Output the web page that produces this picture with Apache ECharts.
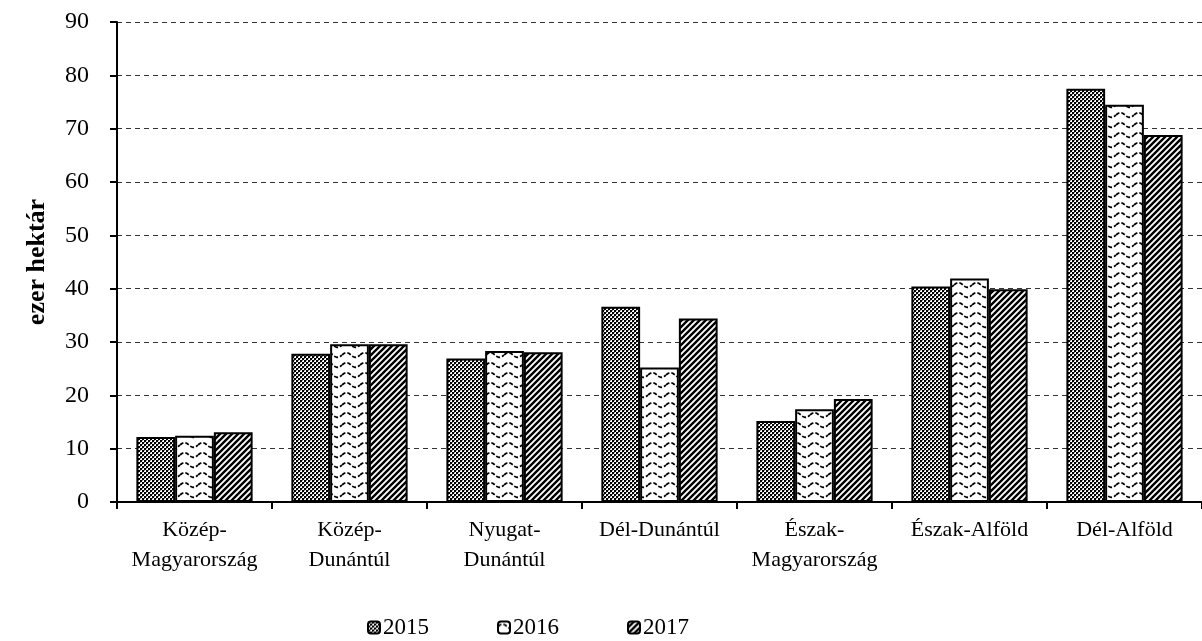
<!DOCTYPE html>
<html>
<head>
<meta charset="utf-8">
<script src="https://cdn.jsdelivr.net/npm/echarts@6/dist/echarts.min.js"></script>
<style>
html,body{margin:0;padding:0;background:#fff;}
#chart{width:1202px;height:641px;}
</style>
</head>
<body>
<div id="chart"></div>
<script>
const categories = ['Közép-\nMagyarország', 'Közép-\nDunántúl', 'Nyugat-\nDunántúl', 'Dél-Dunántúl', 'Észak-\nMagyarország', 'Észak-Alföld', 'Dél-Alföld'];
const seriesNames = ['2015', '2016', '2017'];
const values2015 = [12.2, 27.8, 26.9, 36.6, 15.2, 40.4, 77.5];
const values2016 = [12.4, 29.6, 28.3, 25.2, 17.4, 41.9, 74.5];
const values2017 = [13.1, 29.6, 28.1, 34.4, 19.3, 39.9, 68.8];
const yTicks = [0, 10, 20, 30, 40, 50, 60, 70, 80, 90];

function checkerPattern() {
  const c = document.createElement('canvas');
  c.width = 4; c.height = 4;
  const g = c.getContext('2d');
  g.fillStyle = '#fff'; g.fillRect(0, 0, 4, 4);
  g.fillStyle = '#000';
  g.fillRect(0, 0, 2, 2); g.fillRect(2, 2, 2, 2);
  g.fillStyle = '#888';
  g.fillRect(2, 0, 1, 1); g.fillRect(0, 2, 1, 1);
  return c;
}
function wavePattern() {
  const c = document.createElement('canvas');
  c.width = 18; c.height = 10;
  const g = c.getContext('2d');
  g.fillStyle = '#fff'; g.fillRect(0, 0, 18, 10);
  g.strokeStyle = '#000'; g.lineWidth = 1.8;
  g.beginPath();
  for (let x = 0; x <= 18; x += 0.5) {
    const y = 5 - 2.3 * Math.sin(x / 18 * Math.PI * 2);
    if (x === 0) g.moveTo(x, y); else g.lineTo(x, y);
  }
  g.setLineDash([4, 2]);
  g.stroke();
  return c;
}
function diagPattern() {
  const c = document.createElement('canvas');
  c.width = 6; c.height = 6;
  const g = c.getContext('2d');
  g.fillStyle = '#fff'; g.fillRect(0, 0, 6, 6);
  g.strokeStyle = '#000'; g.lineWidth = 2.4;
  g.beginPath();
  g.moveTo(-1, 7); g.lineTo(7, -1);
  g.moveTo(-4, 4); g.lineTo(4, -4);
  g.moveTo(2, 10); g.lineTo(10, 2);
  g.stroke();
  return c;
}
const patterns = [checkerPattern(), wavePattern(), diagPattern()];
const dataSets = [values2015, values2016, values2017];

const chart = echarts.init(document.getElementById('chart'), null, {renderer: 'canvas'});
const font = '"Liberation Serif", "Times New Roman", serif';

chart.setOption({
  animation: false,
  backgroundColor: '#fff',
  textStyle: {fontFamily: font, color: '#000'},
  grid: {left: 117, top: 22, width: 1094, height: 480, containLabel: false},
  legend: {
    bottom: -3,
    left: 362,
    itemWidth: 12,
    itemHeight: 12,
    itemGap: 68,
    textStyle: {fontFamily: font, fontSize: 23, color: '#000', padding: [0, 0, 0, -2]},
    data: seriesNames
  },
  xAxis: {
    type: 'category',
    data: categories,
    axisLine: {lineStyle: {color: '#000', width: 2}},
    axisTick: {show: true, length: 7, lineStyle: {color: '#000', width: 2}},
    axisLabel: {fontFamily: font, fontSize: 22, color: '#000', margin: 13, lineHeight: 30, interval: 0}
  },
  yAxis: {
    type: 'value',
    min: yTicks[0],
    max: yTicks[yTicks.length - 1],
    interval: 10,
    name: 'ezer hektár',
    nameLocation: 'middle',
    nameRotate: 90,
    nameGap: 67,
    nameTextStyle: {fontFamily: font, fontSize: 26, fontWeight: 'bold', color: '#000'},
    axisLine: {show: true, lineStyle: {color: '#000', width: 2}},
    axisTick: {show: true, inside: false, length: 7, lineStyle: {color: '#000', width: 2}},
    axisLabel: {fontFamily: font, fontSize: 24, color: '#000', margin: 28},
    splitLine: {show: true, lineStyle: {color: '#333', width: 1, type: [5, 4]}}
  },
  series: seriesNames.map((name, i) => ({
    name: name,
    type: 'bar',
    data: dataSets[i],
    barGap: '0%',
    barCategoryGap: '25%',
    itemStyle: {
      color: {image: patterns[i], repeat: 'repeat'},
      borderColor: '#000',
      borderWidth: 2
    }
  }))
});
</script>
</body>
</html>
